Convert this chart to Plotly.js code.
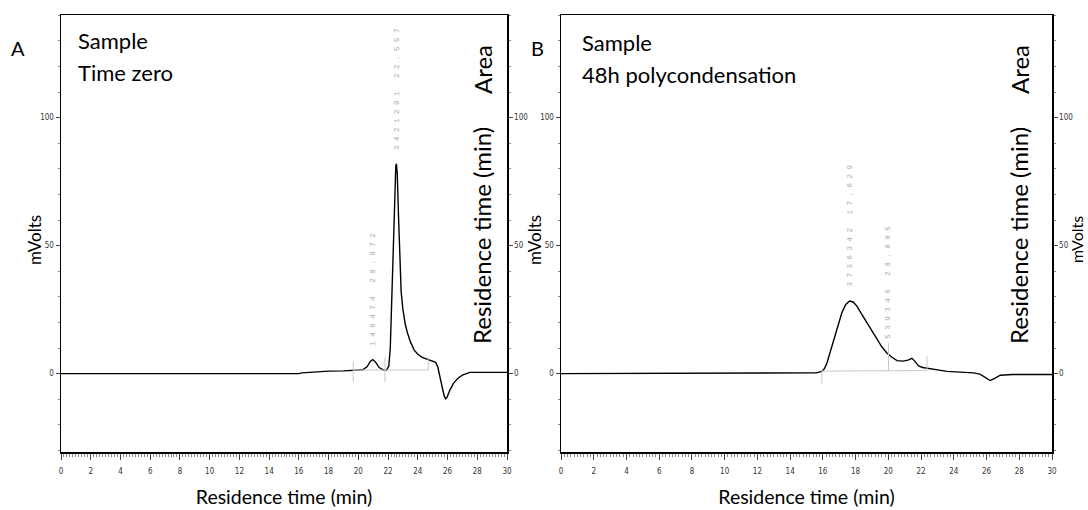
<!DOCTYPE html>
<html>
<head>
<meta charset="utf-8">
<script src="https://cdn.plot.ly/plotly-3.0.1.min.js"></script>
<style>html,body{margin:0;padding:0;background:#fff;}#chart{width:1088px;height:510px;}</style>
</head>
<body>
<div id="chart"></div>
<script>
// ---- Panel A: Sample, time zero ----
var A_time = [0, 16.0, 16.2, 17.0, 17.2, 18.0, 19.0, 19.6, 20.3, 20.6, 20.8, 20.97, 21.15, 21.4, 21.7, 21.9, 22.05, 22.15, 22.25, 22.35, 22.45, 22.52, 22.56, 22.62, 22.7, 22.78, 22.88, 23.0, 23.15, 23.3, 23.5, 23.75, 24.0, 24.3, 24.7, 25.0, 25.2, 25.35, 25.5, 25.65, 25.78, 25.87, 25.97, 26.15, 26.4, 26.7, 27.0, 27.3, 27.5, 30];
var A_mv   = [0, 0, 0.3, 0.6, 0.8, 1.0, 1.1, 1.3, 1.5, 2.8, 4.8, 5.5, 4.6, 2.4, 1.4, 1.4, 3, 10, 30, 55, 75, 81, 82, 78, 62, 45, 32, 25, 19.5, 16, 12.5, 9.3, 7.6, 6.4, 5.6, 5.0, 4.4, 2.5, -1, -5.5, -8.8, -9.8, -9.2, -6.5, -3.8, -1.8, -0.6, 0.2, 0.5, 0.5];
var A_peakTimes  = [20.972, 22.557];
var A_peakAreas  = ["146474", "3421201"];
var A_peakHeight = [5.5, 82];
var A_markX = [19.66, 19.66, null, 21.79, 21.79, null, 24.7, 24.7, null, 19.66, 24.7];
var A_markY = [-3.3, 5, null, -3.3, 6.5, null, 1.4, 6.5, null, 1.4, 1.4];

// ---- Panel B: Sample, 48h polycondensation ----
var B_time = [0, 13.9, 15.6, 15.94, 16.1, 16.25, 16.45, 16.65, 16.9, 17.16, 17.4, 17.63, 17.85, 18.08, 18.4, 18.69, 19.0, 19.3, 19.6, 19.91, 20.2, 20.53, 20.9, 21.2, 21.44, 21.6, 21.85, 22.1, 22.36, 22.8, 23.2, 23.58, 24.0, 24.5, 25.2, 25.6, 25.9, 26.22, 26.5, 26.84, 27.6, 30];
var B_mv   = [0, 0.1, 0.3, 0.9, 2, 4.2, 8.5, 13.3, 19, 23.8, 27, 28.4, 28, 26.4, 23, 19.9, 16.5, 13.4, 10.5, 8.1, 6.5, 5.1, 4.9, 5.3, 6.0, 5.0, 3.0, 2.4, 2.2, 1.7, 1.3, 0.9, 0.7, 0.5, 0.3, -0.2, -1.5, -2.7, -1.8, -0.6, -0.3, -0.3];
var B_peakTimes  = [17.629, 20.005];
var B_peakAreas  = ["3736342", "539346"];
var B_peakHeight = [28.4, 8.1];
var B_markX = [15.94, 15.94, null, 20.01, 20.01, null, 22.36, 22.36, null, 15.94, 22.36];
var B_markY = [-4.3, 1.0, null, 1.1, 12, null, 1.2, 7, null, 1.0, 1.2];

var xTitle = "Residence time (min)";
var yTitle = "mVolts";
var panelLetters = ["A", "B"];
var sampleLines = [["Sample", "Time zero"], ["Sample", "48h polycondensation"]];
var sideLabels = ["Area", "Residence time (min)"];
var yTicks = [0, 50, 100];

var W = 1088, H = 510, T = 15, B = 58;
function px(xp) { return xp / W; }
function py(yp) { return (H - B - yp) / (H - T - B); }

var textFont = "Lato, 'Open Sans', sans-serif";
var tickFont = {family: "'Liberation Sans Narrow', 'DejaVu Sans Condensed', 'Roboto', sans-serif", size: 8, color: "#333"};
var yRange = [-30.6, 140.1];

function spaced(s) { return s.split("").join(" "); }

var traces = [
  {x: A_time, y: A_mv, type: "scatter", mode: "lines", line: {color: "#000", width: 1.4}, xaxis: "x", yaxis: "y", hoverinfo: "skip"},
  {x: A_markX, y: A_markY, type: "scatter", mode: "lines", line: {color: "#c8c8c8", width: 1}, xaxis: "x", yaxis: "y2", hoverinfo: "skip"},
  {x: B_time, y: B_mv, type: "scatter", mode: "lines", line: {color: "#000", width: 1.4}, xaxis: "x2", yaxis: "y3", hoverinfo: "skip"},
  {x: B_markX, y: B_markY, type: "scatter", mode: "lines", line: {color: "#c8c8c8", width: 1}, xaxis: "x2", yaxis: "y4", hoverinfo: "skip"}
];

function xAxis(domain, anchor) {
  return {
    domain: domain, anchor: anchor, range: [0, 30], dtick: 2, tick0: 0,
    ticks: "outside", ticklen: 6, tickwidth: 1, tickcolor: "#444",
    minor: {dtick: 0.2, ticks: "outside", ticklen: 3, tickcolor: "#888", tickwidth: 1},
    showline: true, linecolor: "#000", linewidth: 1.5, mirror: true,
    showgrid: false, zeroline: false, tickfont: tickFont, ticklabelstandoff: 5,
    title: {text: xTitle, font: {family: textFont, size: 19.5, color: "#000"}, standoff: 15}
  };
}
function yAxis(anchor, side, overlay) {
  var o = {
    anchor: anchor, side: side, range: yRange, tickvals: yTicks,
    ticks: "outside", ticklen: 4, tickwidth: 1, tickcolor: "#444",
    minor: {dtick: 10, tick0: 0, ticks: "outside", ticklen: 2, tickcolor: "#888", tickwidth: 1},
    showline: true, linecolor: "#000", linewidth: 1.5,
    showgrid: false, zeroline: false, tickfont: tickFont, ticklabelstandoff: 0
  };
  if (overlay) o.overlaying = overlay;
  return o;
}

var annotations = [];
function addText(text, xp, yp, size, anchor, angle) {
  annotations.push({text: text, xref: "paper", yref: "paper", x: px(xp), y: py(yp),
    xanchor: anchor || "left", yanchor: "middle", showarrow: false, textangle: angle || 0,
    font: {family: textFont, size: size, color: "#000"}});
}
addText(panelLetters[0], 18, 48, 20, "center");
addText(panelLetters[1], 537, 48, 20, "center");
addText(sampleLines[0][0], 76, 40, 22);
addText(sampleLines[0][1], 76, 72.5, 22);
addText(sampleLines[1][0], 580, 42, 22);
addText(sampleLines[1][1], 580, 74, 22);
addText(sideLabels[0], 482, 70, 24, "center", -90);
addText(sideLabels[1], 481, 236, 24, "center", -90);
addText(sideLabels[0], 1019, 70, 24, "center", -90);
addText(sideLabels[1], 1018, 236, 24, "center", -90);
// y-axis titles (left of A, between panels, right of B)
addText(yTitle, 34, 240, 17, "center", -90);
addText(yTitle, 534, 240, 17, "center", -90);
addText(yTitle, 1076, 240, 16, "center", -90);

function peakLabels(times, areas, heights, xr, yr) {
  for (var i = 0; i < times.length; i++) {
    annotations.push({text: spaced(areas[i]) + "   " + spaced(times[i].toFixed(3)),
      x: times[i], y: heights[i], xref: xr, yref: yr, showarrow: false, textangle: -90,
      xanchor: "center", yanchor: "bottom", yshift: 12,
      font: {family: "'Liberation Mono', 'DejaVu Sans Mono', monospace", size: 7.5, color: "#aaaaaa"}});
  }
}
peakLabels(A_peakTimes, A_peakAreas, A_peakHeight, "x", "y");
peakLabels(B_peakTimes, B_peakAreas, B_peakHeight, "x2", "y3");

var layout = {
  width: W, height: H, margin: {l: 0, r: 0, t: T, b: B},
  paper_bgcolor: "#fff", plot_bgcolor: "#fff", showlegend: false,
  xaxis: xAxis([px(61), px(507)], "y"),
  yaxis: yAxis("x", "left", null),
  yaxis2: yAxis("x", "right", "y"),
  xaxis2: xAxis([px(561), px(1052)], "y3"),
  yaxis3: yAxis("x2", "left", null),
  yaxis4: yAxis("x2", "right", "y3"),
  annotations: annotations
};

Plotly.newPlot("chart", traces, layout, {staticPlot: true, displayModeBar: false});
</script>
</body>
</html>
